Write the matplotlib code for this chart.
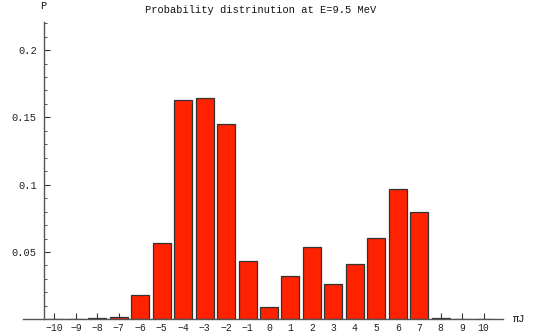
import matplotlib
matplotlib.use("Agg")
import matplotlib.pyplot as plt
from matplotlib.ticker import MultipleLocator

J = list(range(-10, 11))
P = [0.0, 0.0, 0.0007, 0.0015, 0.018, 0.057, 0.1632, 0.1647, 0.1453, 0.0431,
     0.0089, 0.0322, 0.0537, 0.026, 0.0413, 0.0606, 0.0968, 0.080, 0.0008, 0.0, 0.0]
yticks = [0.05, 0.1, 0.15, 0.2]
yticklabels = ["0.05", "0.1", "0.15", "0.2"]
title = "Probability distrinution at E=9.5 MeV"

W, H = 545, 336
fig = plt.figure(figsize=(W / 100, H / 100), dpi=100)
x0, x1 = 23, 503
y0, y1 = 319.3, 22
ax = fig.add_axes([x0 / W, (H - y0) / H, (x1 - x0) / W, (y0 - y1) / H])
ppx = 21.45
xl = (x0 - 269) / ppx
xr = (x1 - 269) / ppx
ax.set_xlim(xl, xr)
ax.set_ylim(0, (y0 - y1) / 1346)

mono = "Liberation Mono"
ax.bar(J, P, width=0.84, color="#ff2200", edgecolor="#333333", linewidth=0.9, zorder=2)

for s in ["top", "right"]:
    ax.spines[s].set_visible(False)
ax.spines["left"].set_position(("data", -10.5))
ax.spines["bottom"].set_position(("data", 0))
for s in ["left", "bottom"]:
    ax.spines[s].set_color("#555555")
    ax.spines[s].set_linewidth(1.0)
    ax.spines[s].set_zorder(3)

ax.set_xticks(J)
ax.set_xticklabels([str(j).replace("-", "\u2212") for j in J], fontfamily=mono, fontsize=7)
ax.set_yticks(yticks)
ax.set_yticklabels(yticklabels, fontfamily=mono, fontsize=7.5)
ax.yaxis.set_minor_locator(MultipleLocator(0.01))
ax.tick_params(axis="both", which="major", direction="in", length=4, width=0.8,
               color="#333333", labelcolor="#222222", pad=5)
ax.tick_params(axis="y", which="minor", direction="in", length=2, width=0.6, color="#333333")
ax.tick_params(axis="x", pad=3)

fig.text(261 / W, 1 - 10 / H, title, fontfamily=mono, fontsize=7.5,
         ha="center", va="center", color="#111111")
fig.text(43 / W, 1 - 6 / H, "P", fontfamily=mono, fontsize=7.5,
         ha="center", va="center", color="#111111")
fig.text(519 / W, 1 - 319 / H, "\u03c0J", fontfamily=mono, fontsize=7.5,
         ha="center", va="center", color="#111111")

fig.savefig("out.png", dpi=100)
